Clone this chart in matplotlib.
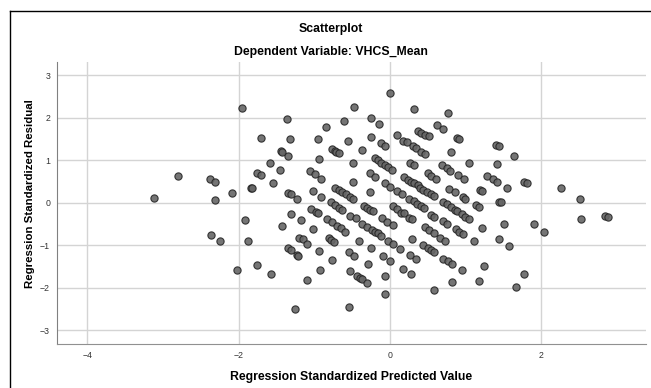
import matplotlib
matplotlib.use("Agg")
import matplotlib.pyplot as plt
from matplotlib.lines import Line2D

# ===================== data =====================
# standardized predicted value (x) and standardized residual (y), one pair per case
pred = [
    # far left
    -3.12, -2.80, -2.38, -2.31, -2.31, -2.09, -2.36, -2.24, -2.02, -1.95,
    -1.92, -1.87, -1.84, -1.82, -1.75, -1.75, -1.70, -1.70, -1.58, -1.55,
    -1.57, -1.44, -1.43, -1.45, -1.42, -1.36, -1.32, -1.34, -1.35, -1.31,
    -1.23, -1.30, -1.35, -1.31, -1.25, -1.23, -1.21, -1.20,
    # top outliers in the middle
    -0.47, -0.25, 0.00, 0.32, 0.77,
    # middle, upper half
    -0.85, -0.60, -0.14, -0.95, -0.55, -0.25,
    -0.76, -0.73, -0.71, -0.67, -0.37, -0.12, -0.07,
    -0.94, -0.48, -0.20, -0.16, -0.11, -0.07, -0.03,
    -1.05, -0.99, -0.91, -0.48, -0.26, -0.19, -0.07, 0.00,
    -1.02, -0.91, -0.72, -0.67, -0.63, -0.58, -0.52, -0.48,
    -0.26, -0.78, -0.73, -0.67, -0.63, -1.04, -0.98, -0.95,
    -0.34, -0.30, -0.26, -0.22, -0.52, -0.45, -0.10,
    0.62, 0.71, 0.09, 0.37, 0.41, 0.46, 0.52, 0.89, 0.92,
    0.18, 0.23, 0.31, 0.35, 0.41, 0.47, 0.81,
    0.27, 0.32, 0.69, 0.75, 0.80, 0.90, 0.03, 0.50, 0.55, 0.61,
    0.19, 0.24, 0.28, 0.32, 0.37, 0.78, 0.86, 0.10, 0.16,
    0.40, 0.44, 0.49, 0.54, 0.58, 0.26, 0.32, 0.36, 0.41, 0.45,
    0.04, 0.10, 0.15, 0.19, 0.71, 0.76, 0.81, 0.86, 0.89,
    0.54, 0.58,
    # middle, lower half
    -1.18, -1.01,
    -0.83, -0.76, -0.70, -0.65, -0.59,
    -0.37, -0.30, -0.24, -0.20, -0.16, -0.12,
    -0.04, 0.04,
    -1.15, -1.09, -0.81, -0.78, -0.74, -0.41, -0.25,
    -0.03, 0.04, -0.93, -0.76, -0.54, -0.47, -0.09, 0.00,
    -0.29, -0.92, -0.53, -0.43, -0.40, -0.37, -0.30,
    -0.06, -1.09, -0.07, -0.54,
    0.25, 0.30, 0.70, 0.75, 0.46, 0.52, 0.58,
    0.67, 0.73, 0.87, 0.91, 0.30, 0.14, 0.27, 0.35,
    0.44, 0.50, 0.55, 0.58, 0.71, 0.77, 0.82,
    0.18, 0.28, 0.59, 0.82,
    # right
    0.95, 0.99, 0.97, 0.98, 0.97, 0.99, 0.96, 1.05, 1.05, 1.11,
    1.14, 1.18, 1.19, 1.22, 1.22, 1.18, 1.24, 1.29, 1.37, 1.42,
    1.40, 1.44, 1.42, 1.45, 1.47, 1.45, 1.51, 1.55, 1.58, 1.64,
    1.78, 1.82, 1.78, 1.67, 1.91, 2.04, 2.27, 2.51, 2.53, 2.85,
    2.88,
]
resid = [
    # far left
    0.12, 0.62, 0.57, 0.49, 0.06, 0.24, -0.75, -0.89, -1.59, 2.23,
    -0.40, -0.89, 0.35, 0.35, -1.47, 0.71, 0.65, 1.53, 0.94, 0.46,
    -1.68, 1.21, 1.19, 0.78, -0.55, 1.98, 1.50, 1.09, 0.24, 0.20,
    0.09, -0.26, -1.07, -1.11, -2.49, -1.23, -1.25, -0.82,
    # top outliers in the middle
    2.25, 2.00, 2.57, 2.20, 2.11,
    # middle, upper half
    1.79, 1.93, 1.86, 1.49, 1.45, 1.55,
    1.26, 1.21, 1.19, 1.16, 1.24, 1.40, 1.34,
    1.04, 0.94, 1.06, 1.00, 0.94, 0.89, 0.85,
    0.75, 0.68, 0.57, 0.50, 0.69, 0.61, 0.47, 0.38,
    0.28, 0.13, 0.35, 0.30, 0.25, 0.20, 0.14, 0.08,
    0.25, 0.01, -0.06, -0.13, -0.17, -0.14, -0.22, -0.25,
    -0.08, -0.13, -0.16, -0.20, -0.31, -0.35, -0.36,
    1.84, 1.74, 1.59, 1.69, 1.64, 1.59, 1.56, 1.53, 1.51,
    1.46, 1.42, 1.34, 1.28, 1.20, 1.15, 1.19,
    0.94, 0.90, 0.89, 0.81, 0.75, 0.65, 0.77, 0.69, 0.64, 0.55,
    0.61, 0.53, 0.49, 0.46, 0.42, 0.33, 0.25, 0.28, 0.20,
    0.35, 0.31, 0.26, 0.21, 0.15, 0.09, 0.04, -0.02, -0.08, -0.12,
    -0.08, -0.14, -0.24, -0.25, 0.02, -0.03, -0.09, -0.16, -0.19,
    -0.28, -0.33,
    # middle, lower half
    -0.41, -0.61,
    -0.39, -0.46, -0.54, -0.59, -0.68,
    -0.49, -0.57, -0.63, -0.68, -0.72, -0.78,
    -0.44, -0.53,
    -0.86, -0.97, -0.83, -0.88, -0.93, -0.89, -1.06,
    -0.90, -0.97, -1.14, -1.34, -1.16, -1.24, -1.25, -1.37,
    -1.45, -1.59, -1.61, -1.71, -1.77, -1.79, -1.88,
    -1.72, -1.82, -2.15, -2.46,
    -0.35, -0.39, -0.43, -0.51, -0.57, -0.64, -0.72,
    -0.83, -0.90, -0.62, -0.68, -0.84, -1.08, -1.22, -1.32,
    -0.99, -1.07, -1.12, -1.15, -1.31, -1.37, -1.45,
    -1.56, -1.67, -2.04, -1.86,
    # right
    -0.27, -0.33, -0.73, 0.57, 0.13, 0.10, -1.59, -0.39, 0.93, -0.90,
    -0.05, -0.10, 0.31, 0.28, -0.59, -1.85, -1.48, 0.64, 0.55, 0.48,
    1.37, 1.34, 0.92, 0.02, 0.01, -0.85, -0.49, 0.34, -1.01, 1.11,
    0.50, 0.47, -1.67, -1.98, -0.51, -0.68, 0.35, 0.09, -0.37, -0.30,
    -0.34,
]

x_ticks = [-4, -2, 0, 2]
y_ticks = [-3, -2, -1, 0, 1, 2, 3]

# ===================== figure =====================
plt.rcParams["font.family"] = ["Liberation Sans", "DejaVu Sans"]

fig = plt.figure(figsize=(6.51, 3.88), dpi=100)
ax = fig.add_axes([0.0876, 0.1134, 0.905, 0.7268])

ax.scatter(pred, resid, s=27, facecolor="#666666", edgecolor="#262626",
           linewidth=0.8, alpha=0.9, zorder=3)

ax.set_xlim(-4.40, 3.39)
ax.set_ylim(-3.32, 3.31)
ax.set_xticks(x_ticks)
ax.set_yticks(y_ticks)
ax.grid(True, color="#d4d4d4", linewidth=1.0, zorder=0)
ax.tick_params(length=0, labelsize=6.3, colors="#333333", pad=5)

for side in ["top", "right"]:
    ax.spines[side].set_visible(False)
ax.spines["left"].set_color("#808080")
ax.spines["bottom"].set_color("#909090")

# axis titles placed like SPSS does
fig.text(0.539, 0.028, "Regression Standardized Predicted Value",
         ha="center", va="center", fontsize=8.8, fontweight="bold")
fig.text(0.046, 0.50, "Regression Standardized Residual", rotation=90,
         ha="center", va="center", fontsize=8.2, fontweight="bold")

fig.text(0.508, 0.925, "Scatterplot", ha="center", va="center",
         fontsize=8.8, fontweight="bold")
fig.text(0.508, 0.866, "Dependent Variable: VHCS_Mean", ha="center",
         va="center", fontsize=8.8, fontweight="bold")

# frame only on the left and top, as in the exported chart
bx, by = 9.5 / 651, 1 - 11 / 388
fig.add_artist(Line2D([bx, bx], [0, by], transform=fig.transFigure,
                      color="black", linewidth=1.0))
fig.add_artist(Line2D([bx, 1], [by, by], transform=fig.transFigure,
                      color="black", linewidth=1.0))

fig.savefig("out.png", dpi=100)
